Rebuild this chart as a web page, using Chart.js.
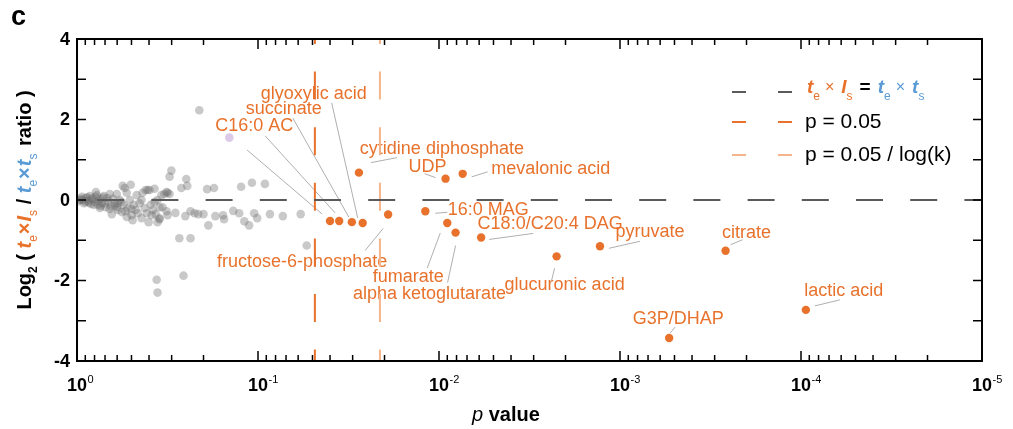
<!DOCTYPE html>
<html>
<head>
<meta charset="utf-8">
<script src="https://cdn.jsdelivr.net/npm/chart.js@4.4.1/dist/chart.umd.min.js"></script>
<style>
  html, body { margin: 0; padding: 0; background: #fff; }
</style>
</head>
<body>
<canvas id="volcano" width="1013" height="429"></canvas>
<script>
// [p value, log2 ratio] for the non-significant metabolites
var grayCore = [
  [0.963,0.0],[0.939,0.08],[0.915,-0.08],[0.892,0.05],[0.870,-0.02],[0.849,0.10],[0.838,-0.10],[0.817,0.02],
  [0.797,-0.05],[0.777,0.12],[0.767,-0.12],[0.748,0.03],[0.729,-0.08],[0.711,0.10],[0.693,-0.18],[0.676,-0.03],
  [0.659,0.15],[0.650,-0.15],[0.634,0.03],[0.618,-0.08],[0.603,0.15],[0.595,-0.25],[0.580,0.0],[0.566,-0.30],
  [0.552,-0.12],[0.545,0.30],[0.531,0.18],[0.525,-0.20],[0.511,0.0],[0.505,0.38],[0.499,-0.38],[0.493,-0.50],
  [0.486,-0.12],[0.474,-0.25],[0.468,0.12],[0.462,-0.33],[0.451,-0.08],[0.440,-0.45],[0.434,0.18],[0.423,-0.20],
  [0.418,0.25],[0.412,-0.33],[0.402,-0.55],[0.397,0.25],[0.392,-0.12],[0.382,-0.25],[0.373,0.28],[0.368,-0.35],
  [0.359,0.0],[0.350,-0.48],[0.342,0.12],[0.337,-0.18],[0.329,0.15],[0.407,0.25],[0.559,0.35],[0.786,0.20],
  [0.642,-0.35],[0.531,-0.42],[0.748,-0.20],[0.595,-0.08],[0.440,0.0],[0.387,-0.38],[0.359,-0.55],[0.373,-0.05],
  [0.98,-0.03],[0.95,0.03],[0.93,0.0],[0.90,-0.05],[0.88,0.07],[0.86,-0.06],[0.83,0.04],[0.81,-0.12],
  [0.79,0.08],[0.76,-0.02],[0.74,-0.15],[0.72,0.06],[0.70,-0.08],[0.68,0.05],[0.66,-0.22],[0.62,-0.15],
  [0.60,-0.18],[0.57,-0.05],[0.54,-0.28],[0.50,-0.22]
];
var graySpread = [
  [0.211,2.23],[0.301,0.73],[0.308,0.58],[0.249,0.52],[0.246,0.35],[0.265,0.30],[0.191,0.27],[0.175,0.30],
  [0.124,0.33],[0.108,0.43],[0.0916,0.40],[0.320,0.20],[0.308,0.15],[0.316,0.18],[0.350,-0.18],[0.320,-0.28],
  [0.316,-0.38],[0.350,-0.45],[0.286,-0.32],[0.252,-0.40],[0.236,-0.28],[0.224,-0.33],[0.214,-0.35],[0.200,-0.35],
  [0.188,-0.63],[0.172,-0.40],[0.154,-0.48],[0.156,-0.38],[0.137,-0.27],[0.127,-0.33],[0.119,-0.53],[0.112,-0.63],
  [0.105,-0.33],[0.101,-0.45],[0.0859,-0.35],[0.0729,-0.40],[0.0581,-0.35],[0.0538,-1.13],[0.272,-0.95],[0.236,-0.95],
  [0.258,-1.88],[0.363,-1.98],[0.359,-2.30]
];
var lilacPoint = [0.144, 1.55];

// significant metabolites
var orangeNames = ['', 'C16:0 AC', 'succinate', 'glyoxylic acid', 'cytidine diphosphate', 'UDP', 'mevalonic acid',
  'fructose-6-phosphate', '16:0 MAG', 'fumarate', 'alpha ketoglutarate', 'C18:0/C20:4 DAG', 'pyruvate',
  'glucuronic acid', 'citrate', 'lactic acid', 'G3P/DHAP'];
var orangeP = [0.040, 0.0356, 0.0303, 0.0264, 0.0277, 0.0092, 0.0074, 0.0191, 0.0119, 0.0090, 0.0081, 0.00585,
  0.00129, 0.00224, 0.000261, 0.000094, 0.000535];
var orangeY = [-0.52, -0.52, -0.55, -0.57, 0.68, 0.53, 0.65, -0.36, -0.28, -0.57, -0.81, -0.93, -1.15, -1.40,
  -1.26, -2.73, -3.43];

// threshold lines as drawn in the figure
var pThreshold = 0.0485;
var pThresholdAdj = 0.0212;
var xTickExps = [0, -1, -2, -3, -4, -5];
var yTickLabels = [-4, -2, 0, 2, 4];
var yTickMarks = [-4, -3, -2, -1, 0, 1, 2, 3, 4];

// label placement, pixels from the point (label centre, leader start, leader end)
var labelOffset = [[0,0],[-85,-95],[-68,-113],[-49,-129],[83,-24],[-18,-12],[88,-5],[-86,48],[63,-1],[-39,54],
  [-26,61],[69,-13],[50,-14],[8,29],[21,-18],[38,-19],[9,-19]];
var leaderOffset = [[-8,-7,-83,-71],[-4,-8,-74,-85],[-3,-5,-59,-104],[-5,-5,-31,-120],[12,-10,38,-15],[-10,-1,-21,-5],
  [9,3,25,-2],[-5,14,-23,36],[10,2,22,1],[-7,10,-20,45],[0,13,-8,50],[8,2,52,-4],[9,2,40,-5],[-2,12,-5,24],
  [5,-6,17,-11],[9,-4,34,-10],[1,-5,6,-11]];

var FF = '"Liberation Sans", Arial, sans-serif';
var ORANGE = '#E8722C';
var ORANGE_LIGHT = '#F5B48A';
var BLUE = '#5B9BD5';

function drawParts(ctx, parts, x, y) {
  var cx = x;
  parts.forEach(function(p) {
    cx += p.gap || 0;
    ctx.font = p.font;
    ctx.fillStyle = p.color;
    ctx.fillText(p.text, cx, y + (p.dy || 0));
    cx += ctx.measureText(p.text).width;
  });
  return cx - x;
}
function partsWidth(ctx, parts) {
  var w = 0;
  parts.forEach(function(p) {
    ctx.font = p.font;
    w += (p.gap || 0) + ctx.measureText(p.text).width;
  });
  return w;
}
function seg(ctx, x1, y1, x2, y2) {
  ctx.beginPath(); ctx.moveTo(x1, y1); ctx.lineTo(x2, y2); ctx.stroke();
}

var labelsPlugin = {
  id: 'labels',
  beforeDatasetsDraw: function(chart) {
    var ctx = chart.ctx, xs = chart.scales.x, ys = chart.scales.y;
    ctx.save();
    ctx.strokeStyle = '#9a9a9a';
    ctx.lineWidth = 0.8;
    ctx.font = '18px ' + FF;
    ctx.fillStyle = ORANGE;
    ctx.textAlign = 'center';
    ctx.textBaseline = 'middle';
    orangeNames.forEach(function(name, i) {
      var px = xs.getPixelForValue(orangeP[i]), py = ys.getPixelForValue(orangeY[i]);
      var l = leaderOffset[i];
      seg(ctx, px + l[0], py + l[1], px + l[2], py + l[3]);
      if (name) ctx.fillText(name, px + labelOffset[i][0], py + labelOffset[i][1]);
    });
    ctx.restore();
  },
  afterDraw: function(chart) {
    var ctx = chart.ctx, ca = chart.chartArea, xs = chart.scales.x, ys = chart.scales.y;
    ctx.save();
    // frame
    ctx.strokeStyle = '#000';
    ctx.lineWidth = 2;
    ctx.strokeRect(ca.left, ca.top, ca.right - ca.left, ca.bottom - ca.top);
    ctx.lineWidth = 1.5;
    // x ticks, top and bottom, pointing inward
    xTickExps.forEach(function(e) {
      var base = Math.pow(10, e);
      var px = xs.getPixelForValue(base);
      seg(ctx, px, ca.bottom, px, ca.bottom - 10);
      seg(ctx, px, ca.top, px, ca.top + 10);
      if (e > xTickExps[xTickExps.length - 1]) {
        for (var m = 2; m <= 9; m++) {
          var mx = xs.getPixelForValue(base / 10 * m);
          seg(ctx, mx, ca.bottom, mx, ca.bottom - 6);
          seg(ctx, mx, ca.top, mx, ca.top + 6);
        }
      }
      // label 10^e
      ctx.textAlign = 'center';
      ctx.textBaseline = 'alphabetic';
      ctx.fillStyle = '#000';
      ctx.font = 'bold 18px ' + FF;
      var w = ctx.measureText('10').width;
      ctx.fillText('10', px, 391);
      ctx.textAlign = 'left';
      ctx.font = '11px ' + FF;
      ctx.fillText(String(e), px + w / 2 + 0.5, 383);
    });
    // y ticks
    yTickMarks.forEach(function(v) {
      var py = ys.getPixelForValue(v);
      seg(ctx, ca.left, py, ca.left + 9, py);
      seg(ctx, ca.right, py, ca.right - 9, py);
    });
    ctx.textAlign = 'right';
    ctx.textBaseline = 'middle';
    ctx.font = 'bold 18px ' + FF;
    ctx.fillStyle = '#000';
    yTickLabels.forEach(function(v) {
      ctx.fillText(String(v), 70, ys.getPixelForValue(v) + 1);
    });

    // axis titles
    ctx.textAlign = 'left';
    ctx.textBaseline = 'alphabetic';
    var xt = [
      { text: 'p', font: 'italic 20px ' + FF, color: '#000' },
      { text: ' value', font: 'bold 20px ' + FF, color: '#000' }
    ];
    drawParts(ctx, xt, 472, 421);

    var B = 'bold 20px ' + FF, BI = 'italic bold 20px ' + FF, S = '12px ' + FF;
    var yt = [
      { text: 'Log', font: B, color: '#000' },
      { text: '2', font: 'bold 12px ' + FF, color: '#000', dy: 6 },
      { text: ' ( ', font: B, color: '#000' },
      { text: 't', font: BI, color: ORANGE },
      { text: 'e', font: S, color: ORANGE, dy: 6 },
      { text: '×', font: B, color: ORANGE, gap: 1 },
      { text: 'I', font: BI, color: ORANGE, gap: 1 },
      { text: 's', font: S, color: ORANGE, dy: 6 },
      { text: ' / ', font: B, color: '#000' },
      { text: 't', font: BI, color: BLUE },
      { text: 'e', font: S, color: BLUE, dy: 6 },
      { text: '×', font: B, color: BLUE, gap: 1 },
      { text: 't', font: BI, color: BLUE, gap: 1 },
      { text: 's', font: S, color: BLUE, dy: 6 },
      { text: ' ratio )', font: B, color: '#000', gap: 2 }
    ];
    ctx.save();
    ctx.translate(31, 200);
    ctx.rotate(-Math.PI / 2);
    drawParts(ctx, yt, -partsWidth(ctx, yt) / 2, 0);
    ctx.restore();

    // panel letter
    ctx.font = 'bold 27px ' + FF;
    ctx.fillStyle = '#000';
    ctx.fillText('c', 11, 25);

    // legend
    ctx.lineWidth = 2;
    var rows = [[92, '#5a5a5a'], [122, ORANGE], [155, ORANGE_LIGHT]];
    rows.forEach(function(r) {
      ctx.strokeStyle = r[1];
      seg(ctx, 732, r[0], 746, r[0]);
      seg(ctx, 778, r[0], 792, r[0]);
    });
    var LB = 'italic bold 19px ' + FF, LS = '12px ' + FF, LX = '16px ' + FF;
    var leg1 = [
      { text: 't', font: LB, color: ORANGE },
      { text: 'e', font: LS, color: ORANGE, dy: 7 },
      { text: '×', font: LX, color: ORANGE, gap: 5, dy: -1 },
      { text: 'I', font: LB, color: ORANGE, gap: 7 },
      { text: 's', font: LS, color: ORANGE, dy: 7 },
      { text: '=', font: 'bold 19px ' + FF, color: '#000', gap: 7 },
      { text: 't', font: LB, color: BLUE, gap: 7 },
      { text: 'e', font: LS, color: BLUE, dy: 7 },
      { text: '×', font: LX, color: BLUE, gap: 5, dy: -1 },
      { text: 't', font: LB, color: BLUE, gap: 7 },
      { text: 's', font: LS, color: BLUE, dy: 7 }
    ];
    drawParts(ctx, leg1, 807, 93);
    ctx.font = '21px ' + FF;
    ctx.fillStyle = '#000';
    ctx.fillText('p = 0.05', 805, 128);
    ctx.fillText('p = 0.05 / log(k)', 805, 161);
    ctx.restore();
  }
};

var grayData = grayCore.concat(graySpread).map(function(d) { return { x: d[0], y: d[1] }; });
var orangeData = orangeP.map(function(p, i) { return { x: p, y: orangeY[i] }; });

var chart = new Chart(document.getElementById('volcano'), {
  type: 'scatter',
  data: {
    datasets: [
      {
        label: 'n.s.', data: grayData, order: 5,
        backgroundColor: 'rgba(105,105,105,0.36)', borderWidth: 0, pointRadius: 4.3
      },
      {
        label: 'lilac', data: [{ x: lilacPoint[0], y: lilacPoint[1] }], order: 5,
        backgroundColor: '#dccbe8', borderWidth: 0, pointRadius: 4.3
      },
      {
        type: 'line', label: 'equal', data: [{ x: 1, y: 0 }, { x: 1e-5, y: 0 }], order: 3,
        borderColor: '#5a5a5a', borderWidth: 2, borderDash: [27, 27.2], borderDashOffset: 34,
        pointRadius: 0, fill: false
      },
      {
        type: 'line', label: 'p = 0.05', data: [{ x: pThreshold, y: 4 }, { x: pThreshold, y: -4 }], order: 3,
        borderColor: ORANGE, borderWidth: 2, borderDash: [28, 27.6], borderDashOffset: 23,
        pointRadius: 0, fill: false
      },
      {
        type: 'line', label: 'p adj', data: [{ x: pThresholdAdj, y: 4 }, { x: pThresholdAdj, y: -4 }], order: 3,
        borderColor: ORANGE_LIGHT, borderWidth: 2, borderDash: [28, 27.6], borderDashOffset: 23,
        pointRadius: 0, fill: false
      },
      {
        label: 'significant', data: orangeData, order: 1,
        backgroundColor: ORANGE, borderWidth: 0, pointRadius: 4.2
      }
    ]
  },
  options: {
    responsive: false,
    animation: false,
    layout: { padding: { top: 39, right: 31, left: 0, bottom: 0 } },
    plugins: { legend: { display: false }, tooltip: { enabled: false } },
    scales: {
      x: {
        type: 'logarithmic', reverse: true, min: 1e-5, max: 1,
        ticks: { display: false }, grid: { display: false }, border: { display: false },
        afterFit: function(s) { s.height = 68; }
      },
      y: {
        min: -4, max: 4,
        ticks: { display: false }, grid: { display: false }, border: { display: false },
        afterFit: function(s) { s.width = 77; }
      }
    }
  },
  plugins: [labelsPlugin]
});
</script>
</body>
</html>
